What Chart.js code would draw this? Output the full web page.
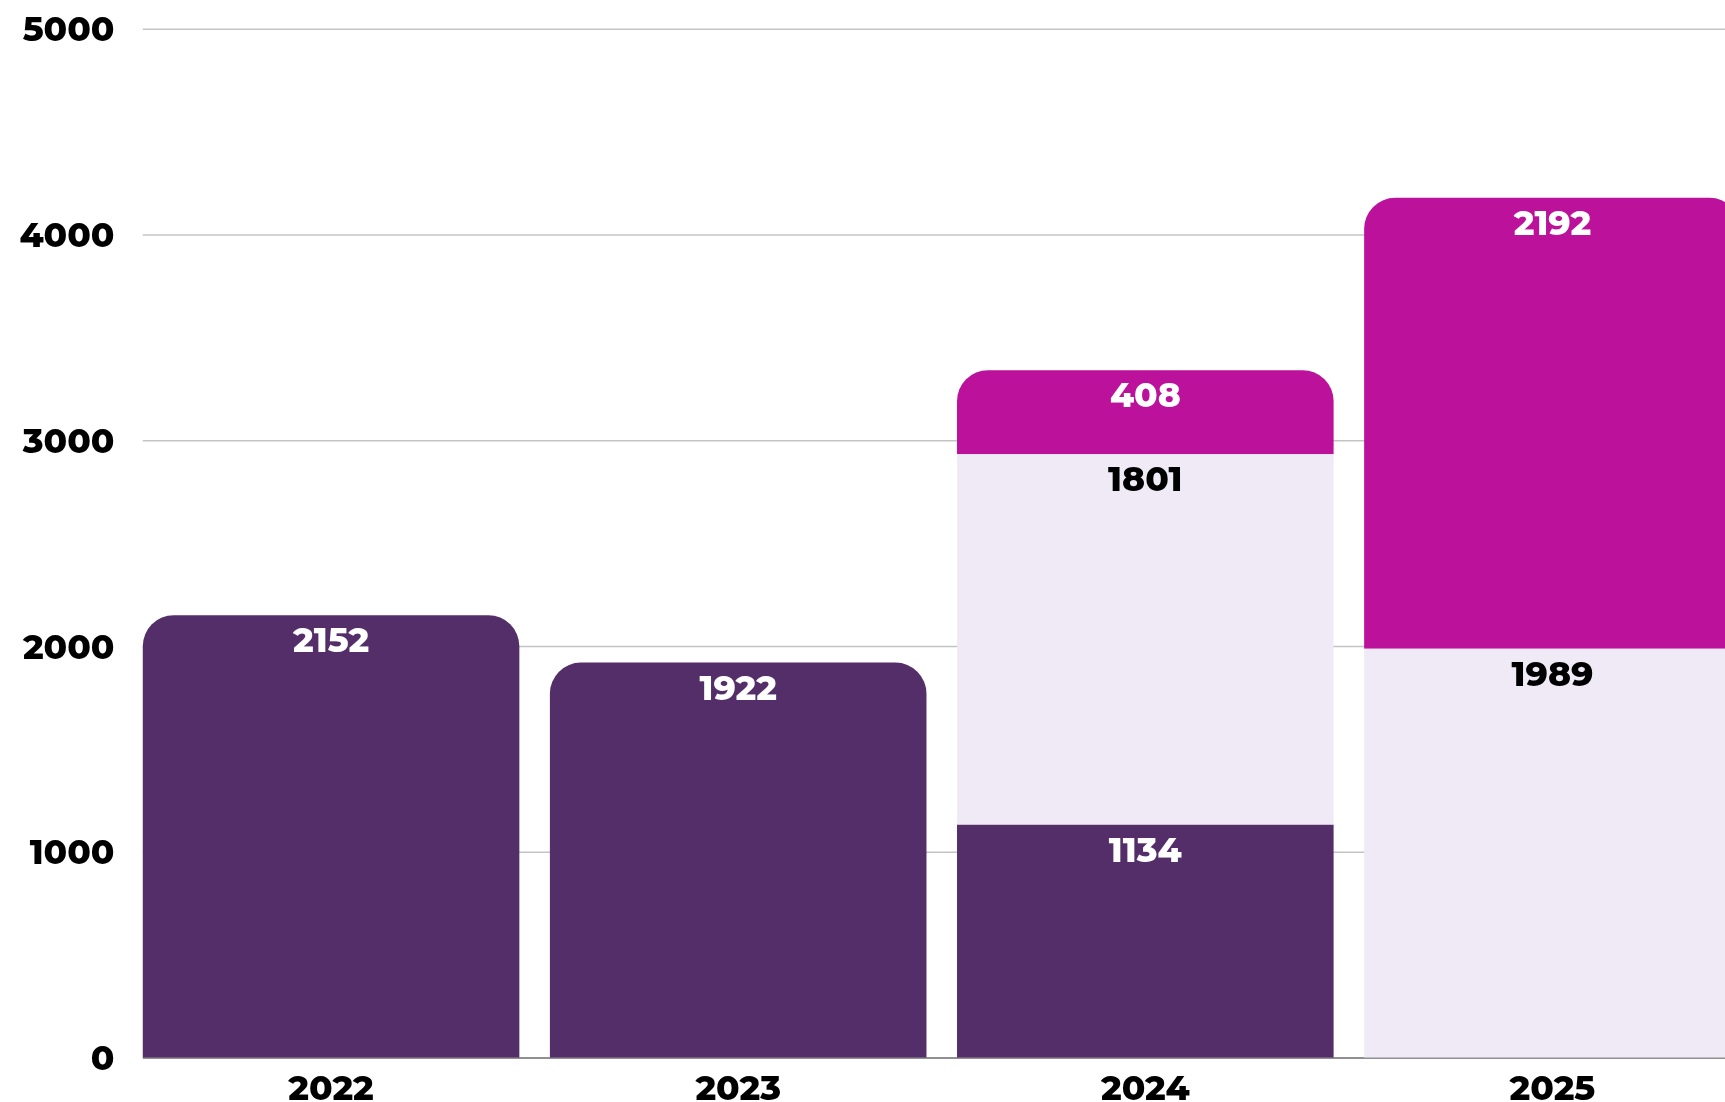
<!DOCTYPE html>
<html>
<head>
<meta charset="utf-8">
<title>Chart</title>
<script src="https://cdn.jsdelivr.net/npm/chart.js@4.4.1/dist/chart.umd.min.js"></script>
<style>
    html, body { margin: 0; padding: 0; background: #fff; overflow: hidden; }
    #barChart { display: block; }
</style>
</head>
<body>
<canvas id="barChart" width="1760" height="1102"></canvas>
<script>
const years = ['2022', '2023', '2024', '2025'];
const baseValues = [2152, 1922, 1134, null];
const middleValues = [null, null, 1801, 1989];
const topValues = [null, null, 408, 2192];
const yTicks = [0, 1000, 2000, 3000, 4000, 5000];

const FONT = {family: "Montserrat, Inter, 'DejaVu Sans', sans-serif", size: 34.5, weight: 800};

// grid lines start at the first bar's left edge, not at the chart area edge
const barGrid = {
    id: 'barGrid',
    beforeDatasetsDraw(chart) {
        const ctx = chart.ctx;
        const y = chart.scales.y;
        const first = chart.getDatasetMeta(0).data[0];
        const x0 = first.x - first.width / 2;
        const x1 = chart.chartArea.right;
        ctx.save();
        y.ticks.forEach(t => {
            const py = y.getPixelForValue(t.value);
            ctx.beginPath();
            if (t.value === 0) {
                ctx.strokeStyle = '#6b6b6b';
                ctx.lineWidth = 1.5;
            } else {
                ctx.strokeStyle = '#c4c4c4';
                ctx.lineWidth = 1.5;
            }
            ctx.moveTo(x0, py);
            ctx.lineTo(x1, py);
            ctx.stroke();
        });
        ctx.restore();
    }
};

// draws the value just under the top edge of every segment
const segmentLabels = {
    id: 'segmentLabels',
    afterDatasetsDraw(chart) {
        const ctx = chart.ctx;
        ctx.save();
        ctx.font = `${FONT.weight} ${FONT.size}px ${FONT.family}`;
        ctx.textAlign = 'center';
        ctx.textBaseline = 'middle';
        chart.data.datasets.forEach((ds, i) => {
            const meta = chart.getDatasetMeta(i);
            meta.data.forEach((bar, j) => {
                const v = ds.data[j];
                if (v === null || v === undefined) return;
                ctx.fillStyle = ds.labelColor;
                ctx.fillText(String(v), bar.x, bar.y + 27);
            });
        });
        ctx.restore();
    }
};

const data = {
    labels: years,
    datasets: [
        {
            label: 'base',
            backgroundColor: '#542e68',
            labelColor: '#ffffff',
            data: baseValues
        },
        {
            label: 'middle',
            backgroundColor: '#f0eaf6',
            labelColor: '#000000',
            data: middleValues
        },
        {
            label: 'top',
            backgroundColor: '#bb119b',
            labelColor: '#ffffff',
            data: topValues
        }
    ]
};

window.onload = function () {
    const ctx = document.getElementById('barChart').getContext('2d');
    window.barChart = new Chart(ctx, {
        type: 'bar',
        data: data,
        plugins: [barGrid, segmentLabels],
        options: {
            responsive: false,
            animation: false,
            layout: {padding: {top: 29.3, right: 4, bottom: 0, left: 0}},
            datasets: {
                bar: {
                    borderRadius: 31,
                    borderSkipped: 'start',
                    barPercentage: 0.925,
                    categoryPercentage: 1.0
                }
            },
            plugins: {
                legend: {display: false},
                tooltip: {enabled: false}
            },
            scales: {
                x: {
                    stacked: true,
                    offset: true,
                    grid: {display: false, drawTicks: false},
                    border: {display: false},
                    ticks: {color: '#000', font: FONT, padding: 11, maxRotation: 0},
                    afterFit(scale) {
                        scale.height = 44;
                        scale.paddingLeft = 0;
                        scale.paddingRight = 0;
                    }
                },
                y: {
                    stacked: true,
                    min: yTicks[0],
                    max: yTicks[yTicks.length - 1],
                    afterBuildTicks(scale) { scale.ticks = yTicks.map(v => ({value: v})); },
                    grid: {drawOnChartArea: false, drawTicks: false},
                    border: {display: false},
                    ticks: {color: '#000', font: FONT, padding: 13, labelOffset: 2, callback: v => String(v)},
                    afterFit(scale) {
                        scale.width = 127.5;
                        scale.paddingTop = 0;
                        scale.paddingBottom = 0;
                    }
                }
            }
        }
    });
};
</script>
</body>
</html>
